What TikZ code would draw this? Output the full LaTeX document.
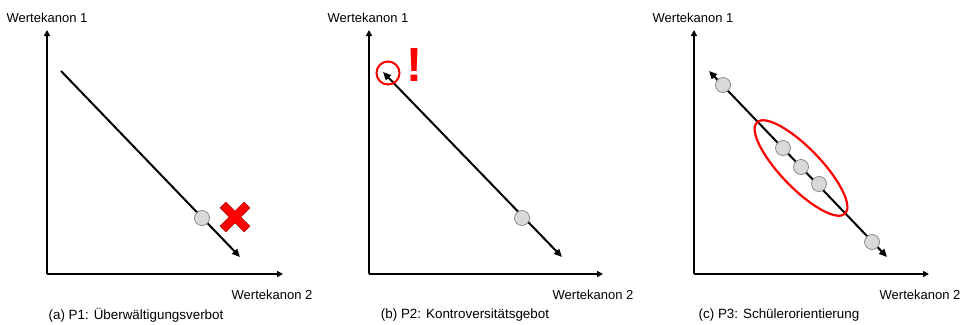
\documentclass[tikz,border=0pt]{standalone}
\usepackage{fontspec}
\setmainfont{Liberation Sans}
\usetikzlibrary{positioning,arrows.meta,shapes.geometric}
\definecolor{Dot}{HTML}{D9D9D9}
\definecolor{DotLine}{HTML}{7F7F7F}
\definecolor{Mark}{HTML}{FF0000}
\definecolor{MarkLine}{HTML}{B00000}

\begin{document}
\begin{tikzpicture}[x=1pt,y=-1pt,every node/.style={font=\fontsize{13}{15}\selectfont}]
\tikzstyle{achse}=[line width=2.3pt,-{Triangle[length=6pt,width=6pt]}]
\tikzstyle{spanline}=[line width=2pt]
\tikzstyle{stance}=[circle,draw=DotLine,fill=Dot,line width=0.7pt,minimum size=15pt,inner sep=0pt]
\tikzstyle{subcap}=[font=\fontsize{13.4}{15}\selectfont]
\useasboundingbox (0,0) rectangle (965,324);

% (a) Ueberwaeltigungsverbot
\coordinate (oa) at (47,274);
\coordinate (ta) at (47,30);
\coordinate (ra) at (283,274);
\draw[achse] (oa) -- (ta);
\draw[achse] (oa) -- (ra);
\node (ya) at (47,18) {Wertekanon 1};
\node (xa) at (272,295) {Wertekanon 2};
\node[subcap] (ca) at (136,315) {(a) P1: Überwältigungsverbot};
\coordinate (sa) at (61,71);
\coordinate (ea) at (240,257);
\draw[spanline,-{Triangle[length=8pt,width=7pt]}] (sa) -- (ea);
\node[stance] (da) at (202,218) {};
\begin{scope}[shift={(235,217)},rotate=45]
\fill[Mark,draw=MarkLine,line width=0.5pt] (4,17) -- (4,4) -- (17,4) -- (17,-4) -- (4,-4) -- (4,-17) -- (-4,-17) -- (-4,-4) -- (-17,-4) -- (-17,4) -- (-4,4) -- (-4,17) -- cycle;
\end{scope}

% (b) Kontroversitaetsgebot
\coordinate (ob) at (369,274);
\coordinate (tb) at (369,30);
\coordinate (rb) at (603,274);
\draw[achse] (ob) -- (tb);
\draw[achse] (ob) -- (rb);
\node (yb) at (368,18) {Wertekanon 1};
\node (xb) at (593,295) {Wertekanon 2};
\node[subcap] (cb) at (465,315) {(b) P2: Kontroversitätsgebot};
\coordinate (sb) at (383,72);
\coordinate (eb) at (562,257);
\draw[spanline,{Triangle[length=8pt,width=7pt]}-{Triangle[length=8pt,width=7pt]}] (sb) -- (eb);
\node[stance] (db) at (522,218) {};
\node[circle,draw=Mark,line width=2pt,minimum size=23pt,inner sep=0pt] (hb) at (388,73) {};
\node[text=Mark,font=\fontsize{48}{48}\selectfont\bfseries,inner sep=0pt] (wb) at (414,64.5) {!};

% (c) Schuelerorientierung
\coordinate (oc) at (694,274);
\coordinate (tc) at (694,30);
\coordinate (rc) at (929,274);
\draw[achse] (oc) -- (tc);
\draw[achse] (oc) -- (rc);
\node (yc) at (693,18) {Wertekanon 1};
\node (xc) at (920,295) {Wertekanon 2};
\node[subcap] (cc) at (779,315) {(c) P3: Schülerorientierung};
\coordinate (sc) at (709,71);
\coordinate (ec) at (887,257);
\draw[spanline,{Triangle[length=8pt,width=7pt]}-{Triangle[length=8pt,width=7pt]}] (sc) -- (ec);
\node[stance] (d1) at (723,85) {};
\node[stance] (d2) at (783,148) {};
\node[stance] (d3) at (801,167) {};
\node[stance] (d4) at (819,184) {};
\node[stance] (d5) at (872,242) {};
\node[ellipse,draw=Mark,line width=2.2pt,minimum width=127pt,minimum height=40pt,inner sep=0pt,rotate=-46] (gc) at (801,168) {};
\end{tikzpicture}
\end{document}
